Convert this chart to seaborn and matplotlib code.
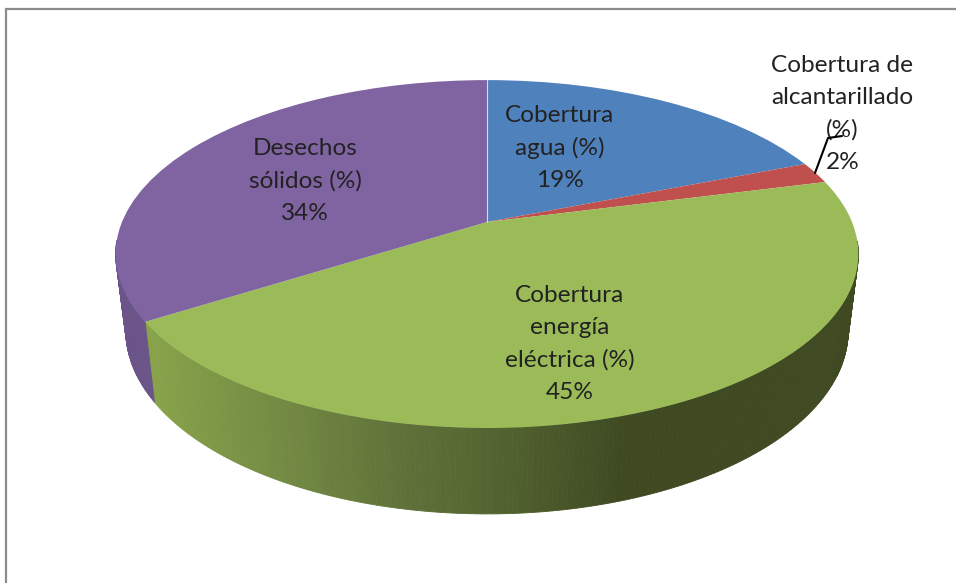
import numpy as np
import matplotlib
matplotlib.use('Agg')
import matplotlib.pyplot as plt
from matplotlib.transforms import Transform
import seaborn as sns

labels = ['Cobertura\nagua (%)', 'Cobertura de\nalcantarillado\n(%)', 'Cobertura\nenergía\neléctrica (%)', 'Desechos\nsólidos (%)']
values = [19, 2, 45, 34]
colors = sns.color_palette(['#4f81bd', '#c0504d', '#9bbb59', '#8064a2'])
wall_colors = ['#3d5f8a', '#8c3a38', '#6f8a3f', '#6a5488']
# green wall shade from left to right
shade_x = [150, 300, 400, 500, 620, 860]
shade_r = [0x88, 0x70, 0x60, 0x53, 0x3f, 0x3f]
shade_g = [0xa2, 0x86, 0x72, 0x63, 0x4a, 0x4a]
shade_b = [0x4a, 0x42, 0x39, 0x30, 0x22, 0x22]


# top face and bottom rim of the pie, seen in perspective
def tilt(u, v, cy=222, a=365, k=168, p=0.184):
    d = 1 + p * v
    return 487 + a * u / d, cy - k * v / d


class TopFace(Transform):
    input_dims = 2
    output_dims = 2
    is_separable = False

    def transform_non_affine(self, values):
        x, y = tilt(values[:, 0], values[:, 1])
        return np.column_stack([x, y])


sns.set_theme(style='white')
plt.rcParams['font.family'] = ['Lato', 'DejaVu Sans']

fig = plt.figure(figsize=(9.56, 5.83), dpi=100)
ax = fig.add_axes([0, 0, 1, 1])

wedges, _ = ax.pie(values, colors=colors, startangle=90, counterclock=False,
                   wedgeprops={'linewidth': 0})
for w in wedges:
    w.set_transform(TopFace() + ax.transData)
    w.set_zorder(3)

ax.set_aspect('auto')
ax.set_xlim(0, 956)
ax.set_ylim(583, 0)
ax.axis('off')

# side wall, only the part that faces the viewer
start = 90.0
for i, val in enumerate(values):
    sweep = val * 3.6
    ang = np.radians(np.linspace(start, start - sweep, max(int(sweep * 1.5), 4)))
    start -= sweep
    for a0, a1 in zip(ang[:-1], ang[1:]):
        ux, uy = np.cos([a0, a1]), np.sin([a0, a1])
        if uy.max() > -0.1:
            continue
        x1, y1 = tilt(ux, uy)
        x2, y2 = tilt(ux, uy, cy=297, a=355, k=177)
        if i == 2:
            mid = x1.mean()
            c = (np.interp(mid, shade_x, shade_r) / 255,
                 np.interp(mid, shade_x, shade_g) / 255,
                 np.interp(mid, shade_x, shade_b) / 255)
        else:
            c = wall_colors[i]
        ax.fill([x1[0], x1[1], x2[1], x2[0]], [y1[0], y1[1], y2[1], y2[0]],
                color=c, lw=0.6, zorder=2)

# seam between first and last slice
sx, sy = tilt(np.array([0, 0]), np.array([0, 1]))
ax.plot(sx, sy, color='#d8d8e8', lw=0.8, zorder=4)

# chart frame
ax.plot([6, 6, 956], [583, 9, 9], color='#8c8c8c', lw=1.6, zorder=1,
        solid_joinstyle='miter', clip_on=False)

# leader line of the small slice
ax.plot([815, 828, 842], [173, 138, 136], color='black', lw=1.5, zorder=6)

txt = dict(ha='center', va='center', fontsize=17.6, color='#222222', linespacing=1.64, zorder=5)
pos = [(560, 148), (842.5, 114), (570, 344), (305, 181)]
for lab, val, (x, y) in zip(labels, values, pos):
    ax.text(x, y, f'{lab}\n{val}%', **txt)

fig.savefig('out.png', dpi=100)
